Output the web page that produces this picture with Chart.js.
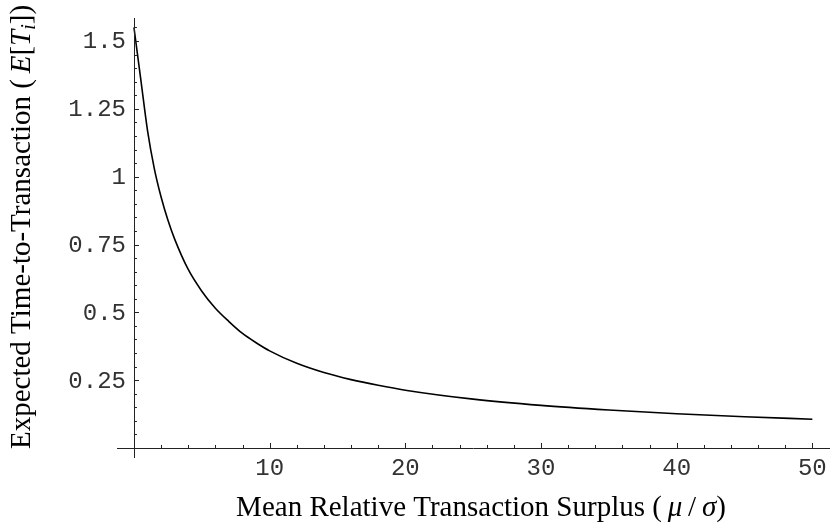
<!DOCTYPE html>
<html>
<head>
<meta charset="utf-8">
<script src="https://cdn.jsdelivr.net/npm/chart.js@4"></script>
<style>
  html, body { margin: 0; padding: 0; background: #fff; }
  #wrap { width: 831px; height: 525px; }
</style>
</head>
<body>
<div id="wrap"><canvas id="surplusChart" width="831" height="525"></canvas></div>
<script>
// values
const surplus  = [0, 0.5, 1, 1.5, 2, 2.5, 3, 4, 5, 6, 7, 8, 9, 10, 12, 14, 16, 18, 20, 25, 30, 35, 40, 45, 50];
const timeToTx = [1.55, 1.36, 1.17, 1.03, 0.925, 0.84, 0.77, 0.658, 0.578, 0.515, 0.466, 0.422, 0.388, 0.358,
                  0.312, 0.278, 0.252, 0.231, 0.213, 0.18, 0.157, 0.14, 0.126, 0.115, 0.106];

const xTickValues = [10, 20, 30, 40, 50];
const xTickLabels = ['10', '20', '30', '40', '50'];
const yTickValues = [0.25, 0.5, 0.75, 1, 1.25, 1.5];
const yTickLabels = ['0.25', '0.5', '0.75', '1', '1.25', '1.5'];

const tickFont = '24px "Liberation Mono", "Courier New", monospace';
const serif = '"Liberation Serif", "Times New Roman", serif';
const titleSize = 29;
const hair = '\u2009';

// draw a list of [text, font, shift] pieces one after another
function drawPieces(ctx, pieces, x, y, centred) {
    let total = 0;
    pieces.forEach(p => {
        ctx.font = p[1];
        total += ctx.measureText(p[0]).width;
    });
    let cx = centred ? x - total / 2 : x;
    pieces.forEach(p => {
        ctx.font = p[1];
        ctx.fillText(p[0], cx, y + (p[2] || 0));
        cx += ctx.measureText(p[0]).width;
    });
}

const mathematicaAxes = {
    id: 'mathematicaAxes',
    afterDatasetsDraw(chart) {
        const ctx = chart.ctx;
        const xs = chart.scales.x;
        const ys = chart.scales.y;
        const area = chart.chartArea;
        const x0 = xs.getPixelForValue(0);
        const y0 = ys.getPixelForValue(0);

        ctx.save();
        ctx.strokeStyle = '#222';
        ctx.lineWidth = 1;

        // axis lines
        ctx.beginPath();
        ctx.moveTo(area.left, Math.round(y0) + 0.5);
        ctx.lineTo(area.right, Math.round(y0) + 0.5);
        ctx.moveTo(Math.round(x0) + 0.5, area.top);
        ctx.lineTo(Math.round(x0) + 0.5, area.bottom);
        ctx.stroke();

        // x ticks, pointing up
        ctx.beginPath();
        for (let v = 2; v <= 50; v += 2) {
            const px = Math.round(xs.getPixelForValue(v)) + 0.5;
            const len = v % 10 === 0 ? 5 : 3;
            ctx.moveTo(px, y0);
            ctx.lineTo(px, y0 - len);
        }
        // y ticks, pointing right
        for (let i = 1; i <= 31; i++) {
            const py = Math.round(ys.getPixelForValue(i * 0.05)) + 0.5;
            const len = i % 5 === 0 ? 5 : 3;
            ctx.moveTo(x0, py);
            ctx.lineTo(x0 + len, py);
        }
        ctx.stroke();

        // tick labels
        ctx.fillStyle = '#333';
        ctx.font = tickFont;
        ctx.textAlign = 'center';
        ctx.textBaseline = 'middle';
        xTickValues.forEach((v, i) => {
            ctx.fillText(xTickLabels[i], xs.getPixelForValue(v), y0 + 21);
        });
        ctx.textAlign = 'right';
        yTickValues.forEach((v, i) => {
            ctx.fillText(yTickLabels[i], x0 - 8, ys.getPixelForValue(v) + 1);
        });

        // axis titles
        ctx.fillStyle = '#000';
        ctx.textAlign = 'left';
        ctx.textBaseline = 'alphabetic';
        const up = titleSize + 'px ' + serif;
        const it = 'italic ' + titleSize + 'px ' + serif;
        const sub = 'italic ' + Math.round(titleSize * 0.7) + 'px ' + serif;
        drawPieces(ctx, [
            ['Mean Relative Transaction Surplus (' + hair, up],
            ['\u03bc', it], [hair + '/' + hair, up], ['\u03c3', it], [')', up]
        ], 481, 516, true);

        ctx.translate(30, 227);
        ctx.rotate(-Math.PI / 2);
        drawPieces(ctx, [
            ['Expected Time-to-Transaction (' + hair, up],
            ['E', it], ['[', up], ['T', it], ['i', sub, 5], [']', up], [')', up]
        ], 0, 0, true);
        ctx.restore();
    }
};

const ctx = document.getElementById('surplusChart').getContext('2d');
new Chart(ctx, {
    type: 'line',
    data: {
        datasets: [{
            data: surplus.map((s, i) => ({ x: s, y: timeToTx[i] })),
            borderColor: '#000',
            borderWidth: 1.6,
            pointRadius: 0,
            fill: false,
            cubicInterpolationMode: 'monotone'
        }]
    },
    options: {
        responsive: false,
        animation: false,
        layout: { padding: { left: 117, right: 1, top: 18, bottom: 67 } },
        plugins: { legend: { display: false }, tooltip: { enabled: false } },
        scales: {
            x: { type: 'linear', min: -1.25, max: 51.3, display: false },
            y: { min: -0.037, max: 1.585, display: false }
        }
    },
    plugins: [mathematicaAxes]
});
</script>
</body>
</html>
